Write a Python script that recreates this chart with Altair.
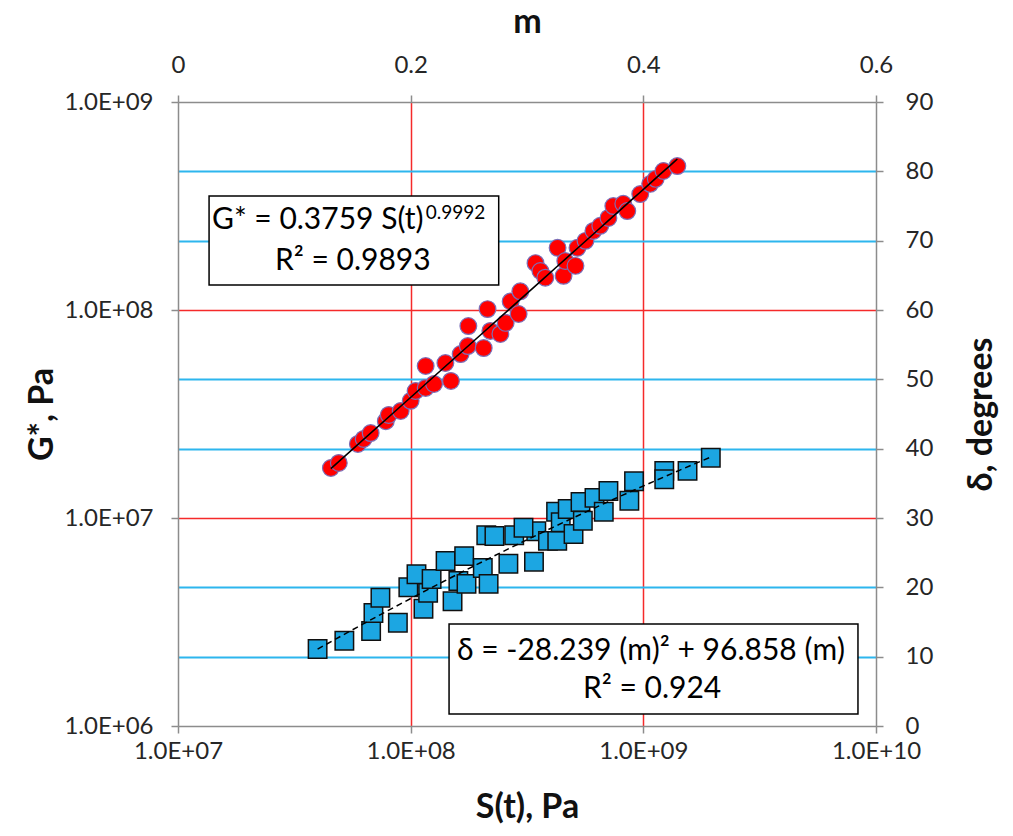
import altair as alt
import pandas as pd

# ---------------- data ----------------
# red circles: G* (Pa) versus S(t) (Pa), log-log
S_pa = [4.54e7, 4.91e7, 5.93e7, 6.28e7, 6.73e7, 7.82e7, 8.05e7, 9.06e7, 1.00e8, 1.05e8,
        1.16e8, 1.26e8, 1.16e8, 1.41e8, 1.49e8, 1.64e8, 1.76e8, 2.06e8, 1.77e8, 2.20e8,
        2.43e8, 2.14e8, 2.56e8, 2.69e8, 2.91e8, 2.96e8, 3.44e8, 3.61e8, 3.79e8, 4.28e8,
        4.54e8, 4.62e8, 5.11e8, 5.21e8, 5.64e8, 6.10e8, 6.53e8, 7.08e8, 7.43e8, 8.20e8,
        8.53e8, 9.70e8, 1.07e9, 1.13e9, 1.22e9, 1.40e9]
G_pa = [1.74e7, 1.84e7, 2.27e7, 2.40e7, 2.56e7, 2.92e7, 3.13e7, 3.27e7, 3.66e7, 4.08e7,
        4.22e7, 4.41e7, 5.38e7, 5.56e7, 4.56e7, 6.14e7, 6.71e7, 6.56e7, 8.37e7, 7.93e7,
        7.67e7, 1.01e8, 8.67e7, 1.10e8, 9.57e7, 1.23e8, 1.68e8, 1.54e8, 1.43e8, 1.99e8,
        1.46e8, 1.72e8, 1.63e8, 1.99e8, 2.15e8, 2.40e8, 2.54e8, 2.77e8, 3.16e8, 3.24e8,
        2.99e8, 3.61e8, 4.04e8, 4.27e8, 4.66e8, 4.92e8]

# blue squares: delta (degrees) versus m
m_vals = [0.120, 0.143, 0.166, 0.168, 0.174, 0.189, 0.198, 0.205, 0.211, 0.215,
          0.218, 0.230, 0.236, 0.241, 0.246, 0.248, 0.262, 0.267, 0.265, 0.272,
          0.284, 0.289, 0.306, 0.308, 0.297, 0.318, 0.325, 0.326, 0.329, 0.335,
          0.340, 0.346, 0.348, 0.358, 0.366, 0.370, 0.388, 0.392, 0.418, 0.418,
          0.438, 0.458]
delta_vals = [11.1, 12.3, 13.7, 16.3, 18.5, 14.9, 20.0, 21.9, 16.9, 19.2,
              21.2, 23.8, 18.0, 20.9, 24.5, 20.5, 22.8, 20.5, 27.5, 27.4,
              23.4, 27.5, 23.7, 28.1, 28.6, 26.7, 30.9, 26.7, 29.4, 31.3,
              27.7, 32.3, 29.6, 32.9, 30.9, 33.9, 32.5, 35.3, 36.8, 35.6,
              36.8, 38.7]

# axis ticks
S_ticks = [1e7, 1e8, 1e9, 1e10]
G_ticks = [1e6, 1e7, 1e8, 1e9]
m_ticks = [0, 0.2, 0.4, 0.6]
d_ticks = [0, 10, 20, 30, 40, 50, 60, 70, 80, 90]

# annotation texts
eq1_main = "G* = 0.3759 S(t)"
eq1_sup = "0.9992"
eq1_r2 = "R² = 0.9893"
eq2_main = "δ = -28.239 (m)² + 96.858 (m)"
eq2_r2 = "R² = 0.924"

# annotation anchors (in data units of the axes they belong to)
box1_S = [1.36e7, 2.39e8]
box1_G = [1.32e8, 3.53e8]
eq1_main_at = [1.137e8, 2.71e8]
eq1_sup_at = [1.16e8, 2.92e8]
eq1_r2_at = [5.64e7, 1.72e8]
box2_m = [0.233, 0.5845]
box2_d = [1.73, 14.71]
eq2_main_at = [0.4066, 10.82]
eq2_r2_at = [0.4075, 5.34]

# ---------------- styling ----------------
FONT = "Lato"
GRAY = "#8C8C8C"
RED = "#F52A2A"
CYAN = "#2DB6EE"
LBL = "#262626"

exp_expr = "round(log(datum.value)/LN10)"
sci_label = "'1.0E+' + (" + exp_expr + " < 10 ? '0' : '') + " + exp_expr

common = dict(domainColor=GRAY, domainWidth=1.5, tickColor=GRAY, tickWidth=1.5,
              tickSize=7, labelFont=FONT, labelFontSize=24, labelColor=LBL,
              titleFont=FONT, titleFontSize=34, titleFontWeight="bold",
              titleColor="#111111", labelFlush=False, labelOverlap=False)

s_axis = alt.Axis(orient="bottom", values=S_ticks, labelExpr=sci_label,
                  title="S(t), Pa", grid=True, gridWidth=1.5,
                  gridColor={"condition": {"test": "datum.value > 2e7 && datum.value < 5e9",
                                           "value": RED}, "value": "transparent"},
                  labelPadding=6, titlePadding=27, **common)
g_axis = alt.Axis(orient="left", values=G_ticks, labelExpr=sci_label,
                  title="G*, Pa", grid=True, gridWidth=1.5,
                  gridColor={"condition": {"test": "datum.value > 2e6 && datum.value < 5e8",
                                           "value": RED}, "value": "transparent"},
                  labelPadding=18, titlePadding=4, **common)
m_axis = alt.Axis(orient="top", values=m_ticks, format="~g", title="m", grid=False,
                  labelPadding=18, titlePadding=14, **common)
d_axis = alt.Axis(orient="right", values=d_ticks, title="δ, degrees", grid=True,
                  gridWidth=2, titleAngle=270,
                  gridColor={"condition": {"test": "datum.value % 30 != 0",
                                           "value": CYAN}, "value": "transparent"},
                  labelPadding=22, titlePadding=66, **common)

s_scale = alt.Scale(type="log", domain=[1e7, 1e10], nice=False)
g_scale = alt.Scale(type="log", domain=[1e6, 1e9], nice=False)
m_scale = alt.Scale(domain=[0, 0.6], nice=False, zero=False)
d_scale = alt.Scale(domain=[0, 90], nice=False, zero=False)

red_df = pd.DataFrame({"S": S_pa, "G": G_pa})
blue_df = pd.DataFrame({"m": m_vals, "d": delta_vals})


def XS(f):
    return alt.X(f, scale=s_scale, axis=s_axis)


def YG(f):
    return alt.Y(f, scale=g_scale, axis=g_axis)


def XM(f):
    return alt.X(f, scale=m_scale, axis=m_axis)


def YD(f):
    return alt.Y(f, scale=d_scale, axis=d_axis)


# ---------- layer A: G* vs S(t) ----------
red_pts = alt.Chart(red_df).mark_point(
    shape="circle", filled=True, fill="#FF0000", stroke="#7B6FB8", strokeWidth=1.2,
    size=280, opacity=1
).encode(x=XS("S:Q"), y=YG("G:Q"))

red_fit = alt.Chart(red_df).transform_regression(
    "S", "G", method="pow"
).mark_line(color="black", strokeWidth=1.6).encode(x=XS("S:Q"), y=YG("G:Q"))

box1_df = pd.DataFrame({"S": [box1_S[0]], "S2": [box1_S[1]], "G": [box1_G[0]], "G2": [box1_G[1]]})
box1 = alt.Chart(box1_df).mark_rect(fill="white", stroke="black", strokeWidth=1.5).encode(
    x=XS("S:Q"), x2="S2:Q", y=YG("G:Q"), y2="G2:Q")

t1_df = pd.DataFrame({"S": [eq1_main_at[0]], "G": [eq1_main_at[1]], "t": [eq1_main]})
t1 = alt.Chart(t1_df).mark_text(font=FONT, fontSize=30, align="right", baseline="middle",
                                color="black").encode(x=XS("S:Q"), y=YG("G:Q"), text="t:N")
t1s_df = pd.DataFrame({"S": [eq1_sup_at[0]], "G": [eq1_sup_at[1]], "t": [eq1_sup]})
t1s = alt.Chart(t1s_df).mark_text(font=FONT, fontSize=19, align="left", baseline="middle",
                                  color="black").encode(x=XS("S:Q"), y=YG("G:Q"), text="t:N")
t1r_df = pd.DataFrame({"S": [eq1_r2_at[0]], "G": [eq1_r2_at[1]], "t": [eq1_r2]})
t1r = alt.Chart(t1r_df).mark_text(font=FONT, fontSize=30, align="center", baseline="middle",
                                  color="black").encode(x=XS("S:Q"), y=YG("G:Q"), text="t:N")

layer_a = alt.layer(red_pts, red_fit, box1, t1, t1s, t1r)

# ---------- layer B: delta vs m ----------
blue_pts = alt.Chart(blue_df).mark_point(
    shape="square", filled=True, fill="#1CA6E2", stroke="#101010", strokeWidth=1.5,
    size=340, opacity=1
).encode(x=XM("m:Q"), y=YD("d:Q"))

blue_fit = alt.Chart(blue_df).transform_regression(
    "m", "d", method="poly", order=2
).mark_line(color="black", strokeWidth=1.5, strokeDash=[6, 4]).encode(x=XM("m:Q"), y=YD("d:Q"))

box2_df = pd.DataFrame({"m": [box2_m[0]], "m2": [box2_m[1]], "d": [box2_d[0]], "d2": [box2_d[1]]})
box2 = alt.Chart(box2_df).mark_rect(fill="white", stroke="black", strokeWidth=1.5).encode(
    x=XM("m:Q"), x2="m2:Q", y=YD("d:Q"), y2="d2:Q")

t2_df = pd.DataFrame({"m": [eq2_main_at[0], eq2_r2_at[0]], "d": [eq2_main_at[1], eq2_r2_at[1]],
                      "t": [eq2_main, eq2_r2]})
t2 = alt.Chart(t2_df).mark_text(font=FONT, fontSize=30, align="center", baseline="middle",
                                color="black").encode(x=XM("m:Q"), y=YD("d:Q"), text="t:N")

layer_b = alt.layer(blue_pts, blue_fit, box2, t2)

chart = alt.layer(layer_a, layer_b).resolve_scale(
    x="independent", y="independent"
).properties(
    width=698, height=624,
    padding={"left": 25, "top": 5, "right": 4, "bottom": 4},
    background="white",
).configure_view(stroke=None)

chart.save("out.html", embed_options={"renderer": "svg", "actions": False})
